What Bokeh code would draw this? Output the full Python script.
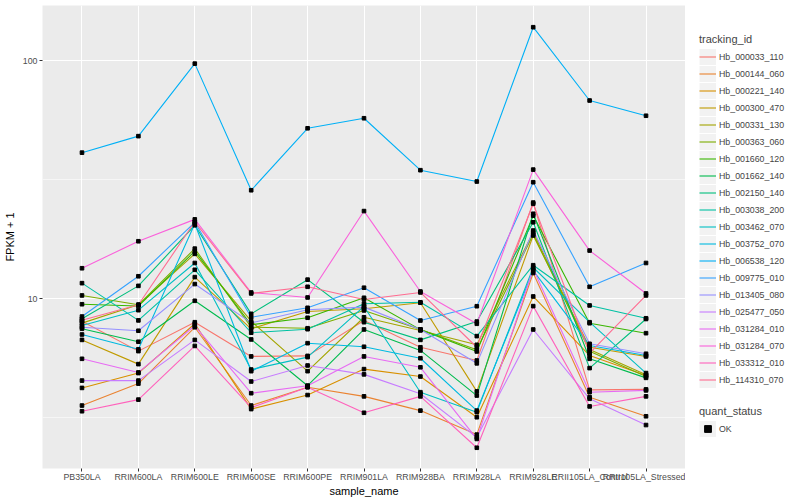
import math
from bokeh.plotting import figure
from bokeh.layouts import row
from bokeh.models import (FactorRange, Range1d, Legend, LegendItem, FixedTicker,
                          NumeralTickFormatter)
from bokeh.embed import file_html
from bokeh.resources import INLINE

samples = ["PB350LA", "RRIM600LA", "RRIM600LE", "RRIM600SE", "RRIM600PE", "RRIM901LA",
           "RRIM928BA", "RRIM928LA", "RRIM928LE", "RRII105LA_Control", "RRII105LA_Stressed"]

tracking_ids = ["Hb_000033_110", "Hb_000144_060", "Hb_000221_140", "Hb_000300_470",
                "Hb_000331_130", "Hb_000363_060", "Hb_001660_120", "Hb_001662_140",
                "Hb_002150_140", "Hb_003038_200", "Hb_003462_070", "Hb_003752_070",
                "Hb_006538_120", "Hb_009775_010", "Hb_013405_080", "Hb_025477_050",
                "Hb_031284_010", "Hb_031284_070", "Hb_033312_010", "Hb_114310_070"]

colors = ["#F8766D", "#EA8331", "#D89000", "#C09B00", "#A3A500", "#7CAE00", "#39B600",
          "#00BB4E", "#00BF7D", "#00C1A3", "#00BFC4", "#00BAE0", "#00B0F6", "#35A2FF",
          "#9590FF", "#C77CFF", "#E76BF3", "#FA62DB", "#FF62BC", "#FF6C91"]

# FPKM + 1 per sample
hb_000033_110 = [8.03, 6.01, 7.95, 5.71, 5.74, 8.08, 6.24, 5.49, 25.3, 4.13, 4.15]
hb_000144_060 = [3.55, 4.39, 7.57, 3.55, 4.24, 3.88, 3.38, 2.68, 12.8, 3.85, 3.20]
hb_000221_140 = [4.21, 4.86, 7.83, 3.43, 3.93, 5.05, 4.70, 3.17, 10.2, 5.76, 4.75]
hb_000300_470 = [6.70, 5.30, 12.3, 7.46, 8.82, 9.05, 9.60, 4.07, 18.4, 6.24, 5.71]
hb_000331_130 = [7.88, 9.41, 15.4, 8.03, 4.95, 8.34, 7.34, 6.39, 19.0, 6.11, 4.78]
hb_000363_060 = [10.3, 9.41, 16.2, 7.57, 7.50, 8.91, 7.41, 6.09, 18.6, 6.01, 4.70]
hb_001660_120 = [9.46, 9.30, 15.8, 7.76, 8.30, 10.07, 7.40, 5.99, 22.3, 7.87, 7.15]
hb_001662_140 = [7.46, 6.58, 9.78, 6.73, 4.30, 7.41, 6.05, 3.91, 22.7, 5.58, 4.64]
hb_002150_140 = [8.22, 11.3, 20.3, 8.62, 12.0, 7.95, 6.70, 8.00, 20.9, 5.10, 8.20]
hb_003038_200 = [11.6, 8.09, 13.2, 7.18, 7.43, 9.50, 9.64, 6.95, 13.8, 9.35, 8.26]
hb_003462_070 = [7.70, 8.93, 14.1, 5.03, 5.67, 9.26, 4.04, 3.33, 13.5, 7.95, 4.86]
hb_003752_070 = [7.06, 6.12, 20.6, 4.95, 6.49, 6.27, 5.61, 3.38, 13.1, 6.35, 5.76]
hb_006538_120 = [41.0, 48.1, 97.0, 28.5, 51.9, 57.2, 34.6, 31.0, 138.0, 67.9, 58.6]
hb_009775_010 = [8.40, 12.4, 20.9, 8.34, 9.14, 11.1, 8.08, 9.28, 30.8, 11.2, 14.1]
hb_013405_080 = [7.57, 7.32, 11.5, 7.90, 8.97, 9.20, 7.41, 5.34, 19.3, 6.45, 5.86]
hb_025477_050 = [4.52, 4.52, 6.70, 4.48, 5.23, 4.80, 3.98, 2.61, 7.41, 3.79, 2.94]
hb_031284_010 = [5.58, 4.89, 7.68, 4.00, 4.30, 5.71, 5.14, 2.57, 13.3, 4.04, 4.11]
hb_031284_070 = [13.4, 17.4, 21.5, 10.6, 10.1, 23.3, 10.7, 7.83, 34.8, 15.9, 10.5]
hb_033312_010 = [3.36, 3.76, 6.32, 3.48, 4.24, 3.31, 3.88, 2.36, 9.29, 3.52, 3.88]
hb_114310_070 = [8.10, 9.41, 21.0, 10.5, 11.2, 9.90, 10.6, 6.24, 25.0, 5.89, 10.3]

series = [hb_000033_110, hb_000144_060, hb_000221_140, hb_000300_470, hb_000331_130,
          hb_000363_060, hb_001660_120, hb_001662_140, hb_002150_140, hb_003038_200,
          hb_003462_070, hb_003752_070, hb_006538_120, hb_009775_010, hb_013405_080,
          hb_025477_050, hb_031284_010, hb_031284_070, hb_033312_010, hb_114310_070]

FONT = "Liberation Sans"
FRAME_W, FRAME_H = 643, 463
TOP, BOTTOM, LEFT = 5, 30, 40
DECADE = 238.0
log_max = 2 + (60 - TOP) / DECADE
y_max = 10 ** log_max
y_min = 10 ** (log_max - FRAME_H / DECADE)
FIG_H = TOP + FRAME_H + BOTTOM
FRAME_BOTTOM = TOP + FRAME_H

p = figure(x_range=FactorRange(factors=samples, range_padding=0.2, range_padding_units="absolute"),
           y_range=Range1d(y_min, y_max), y_axis_type="log",
           frame_width=FRAME_W, frame_height=FRAME_H,
           min_border_left=LEFT, min_border_right=0, min_border_top=TOP, min_border_bottom=BOTTOM,
           output_backend="svg", toolbar_location=None)

p.background_fill_color = "#EBEBEB"
p.border_fill_color = "white"
p.outline_line_color = None

p.xgrid.grid_line_color = "white"
p.xgrid.grid_line_width = 1.1
p.ygrid.grid_line_color = "white"
p.ygrid.grid_line_width = 1.1
p.ygrid.minor_grid_line_color = "white"
p.ygrid.minor_grid_line_width = 0.55

p.yaxis.ticker = FixedTicker(ticks=[10, 100], minor_ticks=[10 ** 0.5, 10 ** 1.5])
p.yaxis.formatter = NumeralTickFormatter(format="0")

for ax in (p.xaxis[0], p.yaxis[0]):
    ax.axis_line_color = None
    ax.major_tick_line_color = "#333333"
    ax.major_tick_out = 3
    ax.major_tick_in = 0
    ax.minor_tick_out = 0
    ax.minor_tick_in = 0
    ax.major_label_text_font = FONT
    ax.major_label_text_font_size = "8.8px"
    ax.major_label_text_color = "#4D4D4D"
    ax.axis_label_text_font = FONT
    ax.axis_label_text_font_size = "11px"
    ax.axis_label_text_font_style = "normal"
    ax.axis_label_text_color = "black"

p.xaxis.major_label_standoff = 0
p.yaxis.major_label_standoff = 2
p.xaxis.axis_label_standoff = 0
p.yaxis.axis_label_standoff = 4
p.xaxis.axis_label = "sample_name"
p.yaxis.axis_label = "FPKM + 1"

for col, vals in zip(colors, series):
    p.line(x=samples, y=vals, line_color=col, line_width=1.1)

xs, ys = [], []
for vals in series:
    xs.extend(samples)
    ys.extend(vals)
p.scatter(x=xs, y=ys, marker="square", size=3.6, color="black")

# ---- legend panel (its frame is aligned with the main frame by the row layout) ----
LEG_W = 800 - 2 - LEFT - FRAME_W
lf = figure(width=LEG_W, height=FIG_H, x_range=Range1d(0, 1), y_range=Range1d(0, 1),
            min_border=0, x_axis_location=None, y_axis_location=None,
            output_backend="svg", toolbar_location=None)
lf.grid.visible = False
lf.outline_line_color = None
lf.background_fill_color = "white"
lf.border_fill_color = "white"

# off-screen data so the legend keys get drawn
hx, hy = [-5, -4], [-5, -5]
bg = lf.line(x=hx, y=hy, line_color="#F2F2F2", line_width=16)
items = []
for name, col in zip(tracking_ids, colors):
    r = lf.line(x=hx, y=hy, line_color=col, line_width=1.1)
    items.append(LegendItem(label=name, renderers=[bg, r]))
pts = lf.scatter(x=hx, y=hy, marker="square", size=3.6, color="black")


def style_legend(leg):
    leg.title_text_font = FONT
    leg.title_text_font_size = "11px"
    leg.title_text_font_style = "normal"
    leg.label_text_font = FONT
    leg.label_text_font_size = "8.8px"
    leg.glyph_width = 17
    leg.glyph_height = 17
    leg.label_height = 17
    leg.spacing = 0
    leg.padding = 0
    leg.margin = 0
    leg.label_standoff = 3
    leg.title_standoff = 3
    leg.border_line_color = None
    leg.background_fill_alpha = 0


leg1 = Legend(items=items, title="tracking_id", location=(14, FRAME_BOTTOM - 33 - 356))
style_legend(leg1)
lf.add_layout(leg1)

leg2 = Legend(items=[LegendItem(label="OK", renderers=[bg, pts])], title="quant_status",
              location=(14, FRAME_BOTTOM - 405 - 33))
style_legend(leg2)
lf.add_layout(leg2)

layout = row(p, lf)
open("out.html", "w").write(file_html(layout, INLINE))
